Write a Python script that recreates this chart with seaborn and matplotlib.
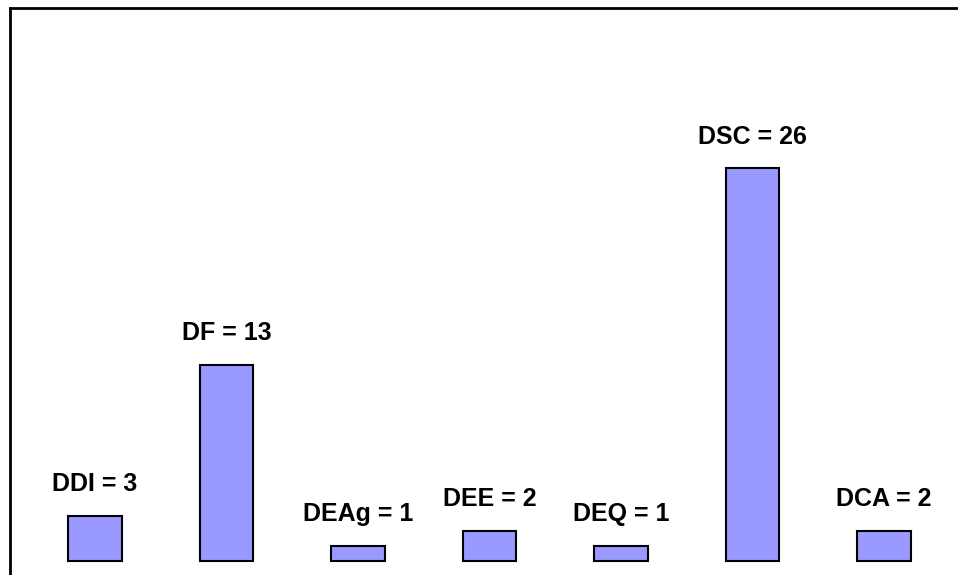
import matplotlib
matplotlib.use("Agg")
import matplotlib.pyplot as plt
import seaborn as sns

# Category names and counts
categories = ["DDI", "DF", "DEAg", "DEE", "DEQ", "DSC", "DCA"]
counts = [3, 13, 1, 2, 1, 26, 2]

BAR_COLOR = "#9999FF"

sns.set_style("white")
plt.rcParams["font.family"] = ["Liberation Sans", "DejaVu Sans"]

W, H, DPI = 958, 575, 100
fig = plt.figure(figsize=(W / DPI, H / DPI), dpi=DPI)
# axes frame starts at x=10px, y=8px and runs off the right/bottom edge
ax = fig.add_axes([10 / W, 0, (W - 10) / W, (H - 8) / H])

sns.barplot(x=categories, y=counts, color=BAR_COLOR, saturation=1,
            width=0.41, edgecolor="black", linewidth=1.5, ax=ax)

# pixel-matched limits: bar spacing ~131.5px, first centre at 95px, zero line at 561px
px_per_cat = 131.5
px_per_unit = 15.1
ax.set_xlim((10 - 95) / px_per_cat, (W - 95) / px_per_cat)
ax.set_ylim(-(H - 561) / px_per_unit, (561 - 8) / px_per_unit)

for i, (name, val) in enumerate(zip(categories, counts)):
    ax.annotate(f"{name} = {val}", xy=(i, val), xytext=(0, 14),
                textcoords="offset points", ha="center", va="bottom",
                fontsize=18, fontweight="bold", color="black")

ax.set_xticks([])
ax.set_yticks([])
ax.set_xlabel("")
ax.set_ylabel("")
for side in ("right", "bottom"):
    ax.spines[side].set_visible(False)
for side in ("left", "top"):
    ax.spines[side].set_visible(True)
    ax.spines[side].set_color("black")
    ax.spines[side].set_linewidth(2.0)

fig.savefig("out.png", dpi=DPI)
